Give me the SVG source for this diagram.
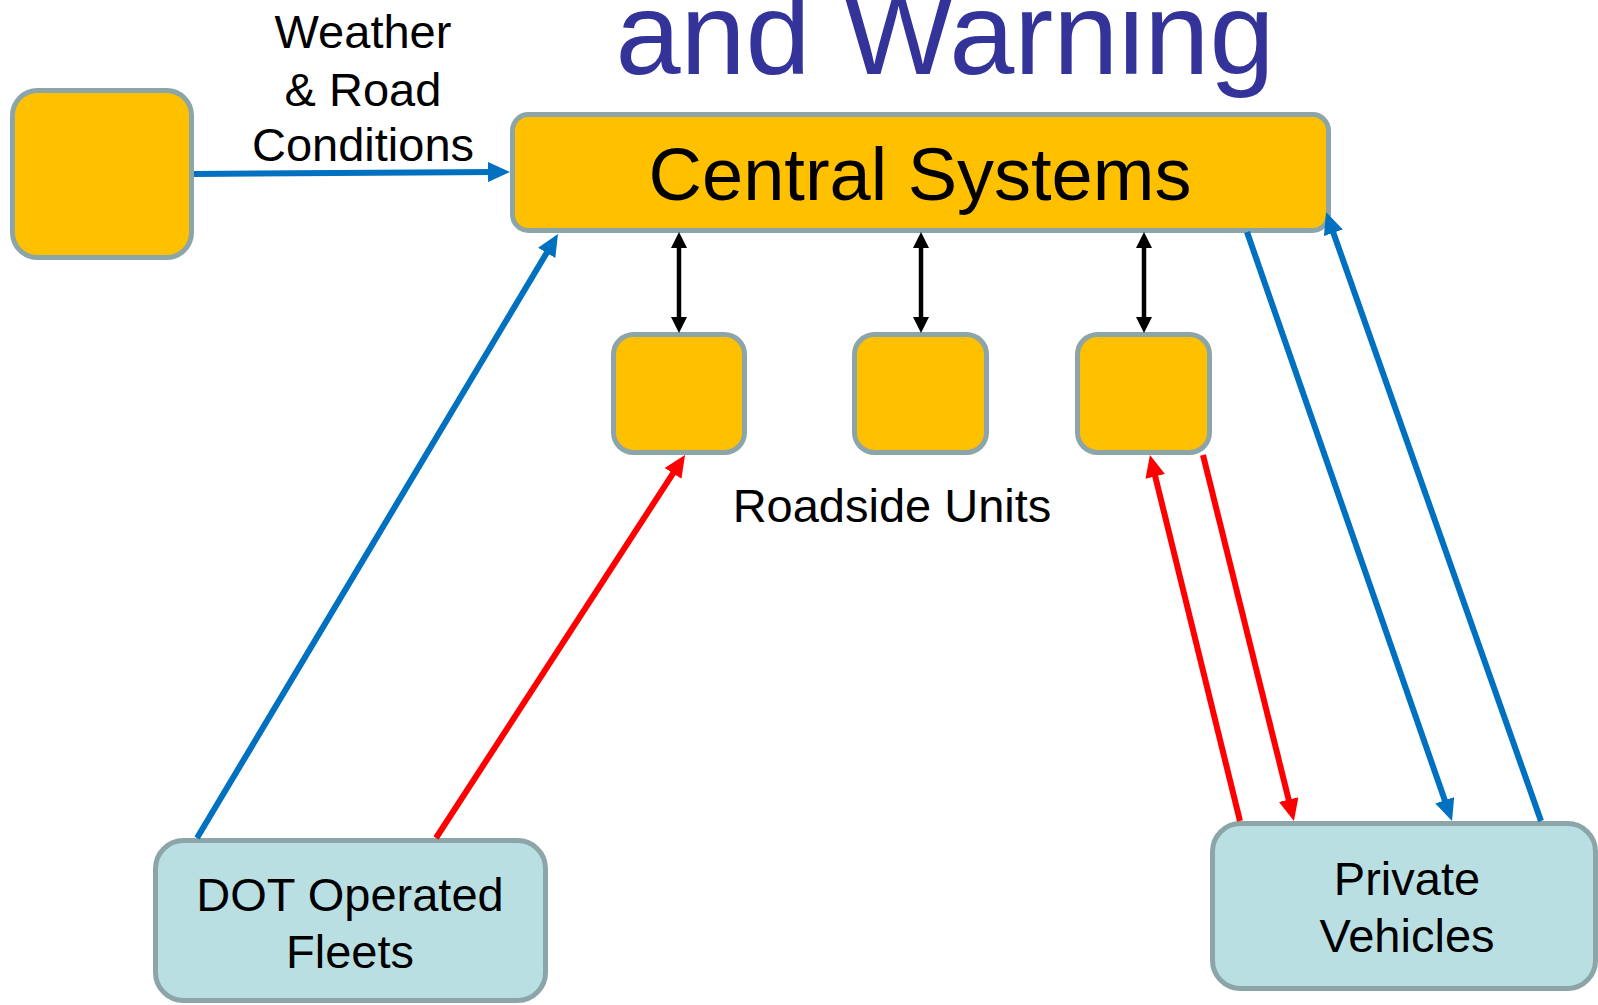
<svg xmlns="http://www.w3.org/2000/svg" width="1598" height="1005" viewBox="0 0 1598 1005">
<style>
text{font-family:"Liberation Sans",Arial,sans-serif;fill:#000;text-anchor:middle}
.gold{fill:#FFC000;stroke:#8BA5A8;stroke-width:5}
.teal{fill:#B9DFE3;stroke:#8BA5A8;stroke-width:5}
.blue{stroke:#0070C0;stroke-width:6;fill:none;marker-end:url(#ab)}
.red{stroke:#FF0000;stroke-width:6;fill:none;marker-end:url(#ar)}
.blk{stroke:#000;stroke-width:4.5;fill:none;marker-start:url(#ak);marker-end:url(#ak)}
.lbl{font-size:47px}
</style>
<defs>
<marker id="ab" viewBox="0 0 22 20" refX="8" refY="10" markerWidth="22" markerHeight="20" markerUnits="userSpaceOnUse" orient="auto"><path d="M0,0 L22,10 L0,20 z" fill="#0070C0"/></marker>
<marker id="ar" viewBox="0 0 22 20" refX="8" refY="10" markerWidth="22" markerHeight="20" markerUnits="userSpaceOnUse" orient="auto"><path d="M0,0 L22,10 L0,20 z" fill="#FF0000"/></marker>
<marker id="ak" viewBox="0 0 16 16" refX="6" refY="8" markerWidth="16" markerHeight="16" markerUnits="userSpaceOnUse" orient="auto-start-reverse"><path d="M0,0 L16,8 L0,16 z" fill="#000"/></marker>
</defs>
<rect width="1598" height="1005" fill="#fff"/>
<text id="title" x="945" y="74" style="font-size:117px;fill:#333399">and Warning</text>
<g id="weather-source"><rect class="gold" x="12.5" y="90.5" width="179" height="167" rx="25"/></g>
<g id="central-systems"><rect class="gold" x="512.5" y="114.5" width="816" height="116" rx="16"/><text x="920" y="200" style="font-size:74px">Central Systems</text></g>
<g id="rsu1"><rect class="gold" x="613.5" y="334.5" width="131" height="118" rx="20"/></g>
<g id="rsu2"><rect class="gold" x="854.5" y="334.5" width="132" height="118" rx="20"/></g>
<g id="rsu3"><rect class="gold" x="1077.5" y="334.5" width="132" height="118" rx="20"/></g>
<text id="rsu-label" class="lbl" x="892" y="522">Roadside Units</text>
<g id="dot-fleets"><rect class="teal" x="155.5" y="840.5" width="390" height="160" rx="28"/><text class="lbl" x="350" y="911">DOT Operated</text><text class="lbl" x="350" y="968">Fleets</text></g>
<g id="private-vehicles"><rect class="teal" x="1212.5" y="823.5" width="383" height="165" rx="28"/><text class="lbl" x="1407" y="895">Private</text><text class="lbl" x="1407" y="952">Vehicles</text></g>
<g id="connectors">
<line class="blue" x1="194" y1="174" x2="496" y2="172"/>
<text class="lbl" x="363" y="48">Weather</text>
<text class="lbl" x="363" y="106">&amp; Road</text>
<text class="lbl" x="363" y="161">Conditions</text>
<line class="blk" x1="679" y1="242" x2="679" y2="323"/>
<line class="blk" x1="921" y1="242" x2="921" y2="323"/>
<line class="blk" x1="1144" y1="242" x2="1144" y2="323"/>
<line class="blue" x1="197" y1="838" x2="550.8" y2="246"/>
<line class="red" x1="436" y1="838" x2="677.4" y2="466.7"/>
<line class="red" x1="1240" y1="821" x2="1153.3" y2="468.6"/>
<line class="red" x1="1203" y1="455" x2="1290.6" y2="807.4"/>
<line class="blue" x1="1247" y1="232" x2="1447.4" y2="807.8"/>
<line class="blue" x1="1541" y1="821" x2="1330.7" y2="225.2"/>
</g>
</svg>
